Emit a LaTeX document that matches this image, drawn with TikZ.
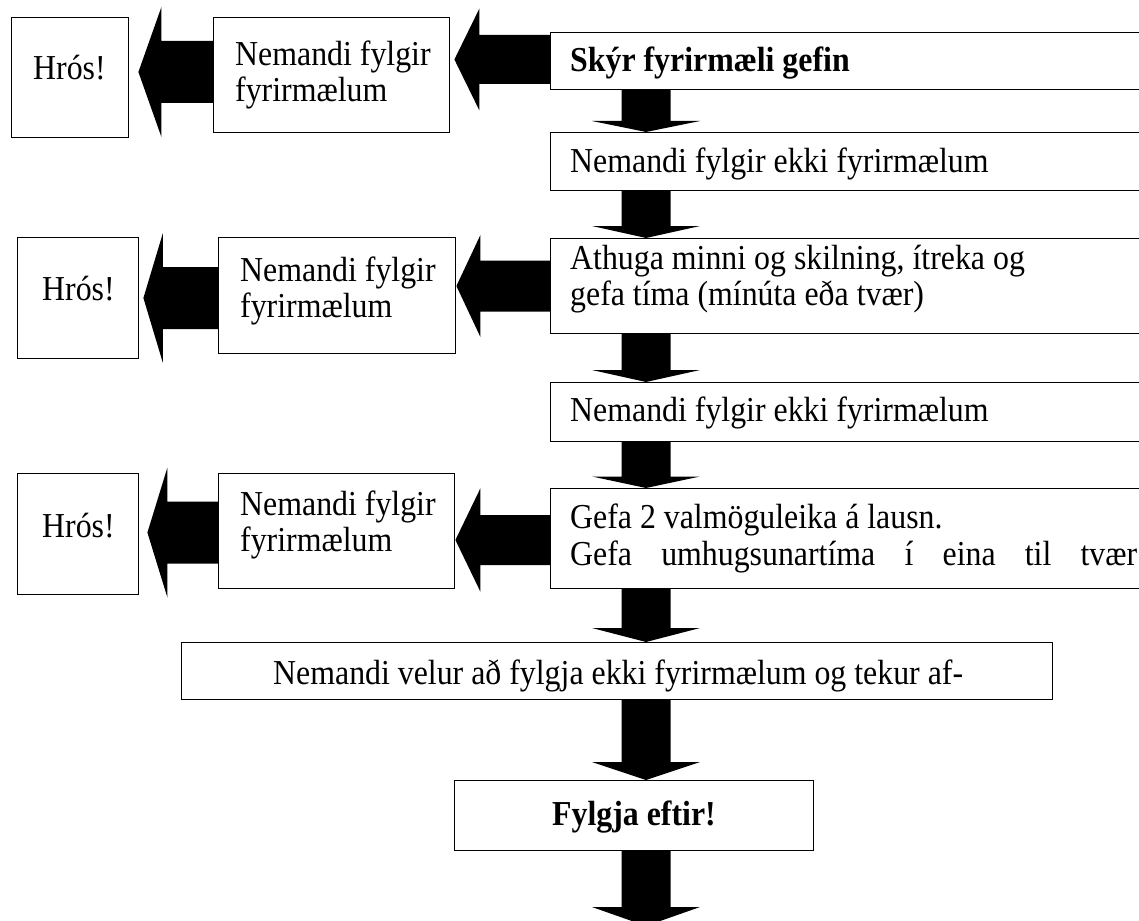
\documentclass[tikz,border=0pt]{standalone}
\usepackage{fontspec}
\setmainfont{Liberation Serif}[FakeStretch=0.91]
\usetikzlibrary{calc}
\tikzset{
  box/.style={draw=black, fill=white, line width=1.4pt, inner sep=0pt, anchor=north west},
  txt/.style={inner sep=0pt, anchor=base west, font=\fontsize{35}{36}\selectfont},
  btxt/.style={txt, font=\fontsize{35}{36}\selectfont\bfseries},
  blk/.style={fill=black, draw=none},
}
% left block arrow: #1 source node, #2 target node, #3 centre y, #4 tip gap,
% #5 head length, #6 shaft half height, #7 head half height
\newcommand\leftblock[7]{%
  \coordinate (lbtip) at ($(#2.east |- 0,#3)+(#4,0)$);
  \coordinate (lbend) at ($(#1.west |- 0,#3)+(0.6,0)$);
  \fill[blk] (lbtip) -- ($(lbtip)+(#5,-#7)$) -- ($(lbtip)+(#5,-#6)$) -- ($(lbend)+(0,-#6)$)
    -- ($(lbend)+(0,#6)$) -- ($(lbtip)+(#5,#6)$) -- ($(lbtip)+(#5,#7)$) -- cycle;
}
% down block arrow: #1 source node, #2 target node/coordinate, #3 head length
\newcommand\downblock[3]{%
  \coordinate (dba) at ($(#1.south -| col)+(0,-0.6)$);
  \coordinate (dbb) at (#2 -| col);
  \fill[blk] ($(dba)+(-24.5,0)$) -- ($(dbb)+(-24.5,-#3)$) -- ($(dbb)+(-54,-#3)$) -- (dbb)
    -- ($(dbb)+(54,-#3)$) -- ($(dbb)+(24.5,-#3)$) -- ($(dba)+(24.5,0)$) -- cycle;
}
\begin{document}
\begin{tikzpicture}[x=1pt, y=-1pt]
\useasboundingbox (0,0) rectangle (1139,920);
\begin{scope}
\clip (0,0) rectangle (1139,920);
\coordinate (col) at (646,0);

% boxes
\node[box, minimum width=117pt, minimum height=120pt] (hros1) at (11,17) {};
\node[box, minimum width=236pt, minimum height=115pt] (nf1) at (213,17) {};
\node[box, minimum width=620pt, minimum height=57pt] (skyr) at (550,32) {};
\node[box, minimum width=620pt, minimum height=58pt] (n2) at (550,132) {};
\node[box, minimum width=121pt, minimum height=121pt] (hros2) at (17,237) {};
\node[box, minimum width=237pt, minimum height=116pt] (nf2) at (218,237) {};
\node[box, minimum width=620pt, minimum height=95pt] (ath) at (550,238) {};
\node[box, minimum width=620pt, minimum height=59pt] (n3) at (550,382) {};
\node[box, minimum width=121pt, minimum height=121pt] (hros3) at (17,473) {};
\node[box, minimum width=236pt, minimum height=115pt] (nf3) at (218,473) {};
\node[box, minimum width=620pt, minimum height=100pt] (gbox) at (550,488) {};
\node[box, minimum width=871pt, minimum height=57pt] (wbox) at (181,642) {};
\node[box, minimum width=359pt, minimum height=70pt] (fyl) at (454,780) {};
\coordinate (bottomend) at (646,926);

% texts
\node[txt] (t-hros1) at (33,80) {Hrós!};
\node[txt] (t-nf1) at (235,66) {\vtop{\hbox{Nemandi fylgir}\hbox{fyrirmælum}}};
\node[btxt] (t-skyr) at (570,72) {Skýr fyrirmæli gefin};
\node[txt] (t-n2) at (570,172) {Nemandi fylgir ekki fyrirmælum};
\node[txt] (t-hros2) at (42,300) {Hrós!};
\node[txt] (t-nf2) at (240,281) {\vtop{\hbox{Nemandi fylgir}\hbox{fyrirmælum}}};
\node[txt] (t-ath) at (570,269) {\vtop{\hbox{Athuga minni og skilning, ítreka og}\hbox{gefa tíma (mínúta eða tvær)}}};
\node[txt] (t-n3) at (570,421) {Nemandi fylgir ekki fyrirmælum};
\node[txt] (t-hros3) at (42,537) {Hrós!};
\node[txt] (t-nf3) at (240,515) {\vtop{\hbox{Nemandi fylgir}\hbox{fyrirmælum}}};
\node[txt] (t-g) at (570,528) {\vtop{\baselineskip=37pt\hbox{Gefa 2 valmöguleika á lausn.}\hbox to 567pt{Gefa\hfill umhugsunartíma\hfill í\hfill eina\hfill til\hfill tvær}}};
\node[txt] (t-w) at (273,684) {Nemandi velur að fylgja ekki fyrirmælum og tekur af-};
\node[btxt] (t-fyl) at (552,825) {Fylgja eftir!};

% left block arrows
\leftblock{nf1}{hros1}{72}{9}{23}{31}{65}
\leftblock{skyr}{nf1}{59.5}{4}{25}{24.5}{51}
\leftblock{nf2}{hros2}{298}{4}{19.5}{31}{65}
\leftblock{ath}{nf2}{286}{0}{24}{25.5}{51}
\leftblock{nf3}{hros3}{532.5}{8}{20}{31}{65}
\leftblock{gbox}{nf3}{540}{0}{25}{25}{51.7}

% down block arrows
\downblock{skyr}{n2.north}{11}
\downblock{n2}{ath.north}{12}
\downblock{ath}{n3.north}{12}
\downblock{n3}{gbox.north}{11.5}
\downblock{gbox}{wbox.north}{14}
\downblock{wbox}{fyl.north}{18}
\downblock{fyl}{bottomend}{19}
\end{scope}
\end{tikzpicture}
\end{document}
